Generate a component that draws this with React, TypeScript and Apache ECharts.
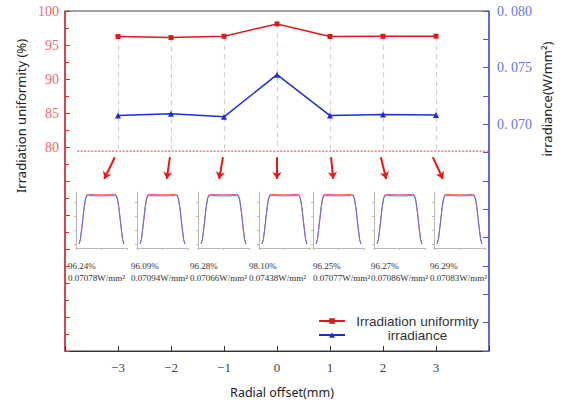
import React, { useEffect, useRef } from "react";
import * as echarts from "echarts";

// ---- data ----
const offsets = [-3, -2, -1, 0, 1, 2, 3];
const uniformity = [96.24, 96.09, 96.28, 98.1, 96.25, 96.27, 96.29];
const irradiance = [0.07078, 0.07094, 0.07066, 0.07438, 0.07077, 0.07086, 0.07083];
const leftLabelMin = 80;
const rightLabelMin = 0.07;
// thumbnail beam profile
const profileX = [-8.8, -8.3, -7.8, -7.3, -6.8, -6.3, -5.8, -5.2, -3, 0, 3, 5.2, 5.8, 6.3, 6.8, 7.3, 7.8, 8.3, 8.8];
const profileRed = [0.29, 0.6, 1.3, 2.1, 2.9, 3.5, 3.78, 3.84, 3.81, 3.8, 3.81, 3.84, 3.78, 3.5, 2.9, 2.1, 1.3, 0.6, 0.29];
const profileBlue = [0.29, 0.6, 1.3, 2.1, 2.9, 3.48, 3.72, 3.74, 3.73, 3.72, 3.73, 3.74, 3.72, 3.48, 2.9, 2.1, 1.3, 0.6, 0.29];
// annotation values
const guideBottom = 79.7;
const cutLevel = 79.4;
const cutStart = -3.77;
const cutEnd = 4;
const arrowFromX = [-3.06, -2.02, -1.02, 0, 1.02, 1.96, 2.94];
const arrowToX = [-3.26, -2.08, -1.09, 0, 1.06, 2.06, 3.13];
const arrowFromY = 78.5;
const arrowToY = 75.3;

// ---- layout (pixels) ----
const thumbLeft = [76, 137, 198, 259, 313, 374, 434];
const textLeft = [68, 131, 190, 249, 313, 371, 430];

const RED_AXIS = "#e52b2b";
const BLUE_AXIS = "#4a58e6";
const SERIF = '"Liberation Serif", "DejaVu Serif", serif';
const SANS = '"Noto Sans", "DejaVu Sans", sans-serif';
const LEGEND_FONT = '"Liberation Sans", Arial, sans-serif';

export default function App() {
  const ref = useRef<HTMLDivElement>(null);
  useEffect(() => {
    const chart = echarts.init(ref.current!, null, { renderer: "svg" });

    const grids: any[] = [
      { left: 65, right: 76, top: 11, bottom: 51, show: true, borderColor: "#444", borderWidth: 1 },
    ];
    const xAxes: any[] = [
      {
        type: "value",
        gridIndex: 0,
        min: -4,
        max: 4,
        interval: 1,
        axisLine: { show: true, onZero: false, lineStyle: { color: "#333", width: 1 } },
        axisTick: { show: true, inside: true, length: 5, lineStyle: { color: "#333" } },
        axisLabel: {
          formatter: (v: number) => (Math.abs(v) < 3.5 ? String(v).replace("-", "\u2212") : ""),
          fontFamily: SERIF,
          fontSize: 13,
          color: "#444",
          margin: 10,
        },
        splitLine: { show: false },
      },
    ];
    const yAxes: any[] = [
      {
        type: "value",
        gridIndex: 0,
        position: "left",
        min: 50,
        max: 100,
        interval: 5,
        axisLine: { show: true, onZero: false, lineStyle: { color: RED_AXIS, width: 1.5 } },
        axisTick: { show: true, inside: true, length: 5, lineStyle: { color: RED_AXIS } },
        minorTick: { show: true, splitNumber: 2, length: 4, lineStyle: { color: RED_AXIS } },
        axisLabel: {
          formatter: (v: number) => (v >= leftLabelMin ? String(v) : ""),
          color: "#e86a6a",
          fontFamily: SERIF,
          fontSize: 14,
          margin: 6,
        },
        splitLine: { show: false },
      },
      {
        type: "value",
        gridIndex: 0,
        position: "right",
        min: 0.05,
        max: 0.08,
        interval: 0.005,
        axisLine: { show: true, onZero: false, lineStyle: { color: BLUE_AXIS, width: 1.5 } },
        axisTick: { show: true, inside: true, length: 6, lineStyle: { color: BLUE_AXIS } },
        minorTick: { show: true, splitNumber: 2, length: 6, lineStyle: { color: BLUE_AXIS } },
        axisLabel: {
          formatter: (v: number) => (v >= rightLabelMin - 1e-6 ? v.toFixed(3).replace("0.", "0. ") : ""),
          color: "#6a75e8",
          fontFamily: SERIF,
          fontSize: 14,
          margin: 8,
        },
        splitLine: { show: false },
      },
    ];

    const series: any[] = [
      {
        type: "lines",
        coordinateSystem: "cartesian2d",
        xAxisIndex: 0,
        yAxisIndex: 0,
        silent: true,
        z: 1,
        symbol: "none",
        lineStyle: { color: "#d0d0d0", width: 1.2, type: [5, 4], opacity: 1 },
        data: offsets.map((x, i) => ({ coords: [[x, uniformity[i]], [x, guideBottom]] })),
      },
      {
        type: "line",
        xAxisIndex: 0,
        yAxisIndex: 0,
        silent: true,
        z: 2,
        showSymbol: false,
        symbol: "none",
        lineStyle: { color: "#e8302a", width: 1, type: [2, 1.5] },
        itemStyle: { color: "#e8302a" },
        data: [[cutStart, cutLevel], [cutEnd, cutLevel]],
      },
      {
        type: "lines",
        coordinateSystem: "cartesian2d",
        xAxisIndex: 0,
        yAxisIndex: 0,
        silent: true,
        z: 2,
        symbol: ["none", "arrow"],
        symbolSize: 7,
        lineStyle: { color: "#e81818", width: 2, opacity: 1 },
        data: offsets.map((_, i) => ({ coords: [[arrowFromX[i], arrowFromY], [arrowToX[i], arrowToY]] })),
      },
      {
        name: "Irradiation uniformity",
        type: "line",
        xAxisIndex: 0,
        yAxisIndex: 0,
        data: offsets.map((x, i) => [x, uniformity[i]]),
        symbol: "rect",
        symbolSize: 5,
        showSymbol: true,
        z: 3,
        itemStyle: { color: "#d61c1c" },
        lineStyle: { color: "#d61c1c", width: 1.5 },
      },
      {
        name: "irradiance",
        type: "line",
        xAxisIndex: 0,
        yAxisIndex: 1,
        data: offsets.map((x, i) => [x, irradiance[i]]),
        symbol: "triangle",
        symbolSize: 6,
        showSymbol: true,
        z: 3,
        itemStyle: { color: "#1f2fcf" },
        lineStyle: { color: "#1f2fcf", width: 1.5 },
      },
    ];

    thumbLeft.forEach((left, i) => {
      grids.push({ left, top: 192, width: 51, height: 56 });
      xAxes.push({
        type: "value",
        gridIndex: i + 1,
        min: -10,
        max: 10,
        interval: 10,
        axisLine: { show: true, onZero: false, lineStyle: { color: "#b8b8b8", width: 1 } },
        axisTick: { show: true, length: 2, lineStyle: { color: "#b8b8b8" } },
        axisLabel: { show: false },
        splitLine: { show: false },
      });
      yAxes.push({
        type: "value",
        gridIndex: i + 1,
        min: 0,
        max: 4,
        interval: 1,
        axisLine: { show: true, onZero: false, lineStyle: { color: "#b8b8b8", width: 1 } },
        axisTick: { show: true, length: 2, lineStyle: { color: "#b8b8b8" }, customValues: [0.29, 1.29, 2.29, 3.29] },
        axisLabel: { show: false },
        splitLine: { show: false },
      });
      series.push({
        type: "line",
        xAxisIndex: i + 1,
        yAxisIndex: i + 2,
        showSymbol: false,
        silent: true,
        data: profileX.map((x, k) => [x, profileRed[k]]),
        lineStyle: { color: "#e05a5a", width: 1 },
        itemStyle: { color: "#e05a5a" },
      });
      series.push({
        type: "line",
        xAxisIndex: i + 1,
        yAxisIndex: i + 2,
        showSymbol: false,
        silent: true,
        data: profileX.map((x, k) => [x, profileBlue[k]]),
        lineStyle: { color: "#6a6ae6", width: 1 },
        itemStyle: { color: "#6a6ae6" },
      });
    });

    const graphic: any[] = [
      {
        type: "text",
        x: 21,
        y: 116,
        rotation: Math.PI / 2,
        style: { text: "Irradiation uniformity (%)", fontSize: 13, fontFamily: SANS, fill: "#222", align: "center", verticalAlign: "middle" },
      },
      {
        type: "text",
        x: 547,
        y: 99,
        rotation: Math.PI / 2,
        style: { text: "irradiance(W/mm\u00b2)", fontSize: 13, fontFamily: SANS, fill: "#222", align: "center", verticalAlign: "middle" },
      },
      {
        type: "text",
        x: 282,
        y: 392,
        style: { text: "Radial offset(mm)", fontSize: 12.5, fontFamily: SANS, fill: "#222", align: "center", verticalAlign: "middle" },
      },
    ];
    textLeft.forEach((x, i) => {
      graphic.push({
        type: "text",
        x,
        y: 266,
        style: { text: uniformity[i].toFixed(2) + "%", fontSize: 9, fontFamily: SERIF, fill: "#333", verticalAlign: "middle" },
      });
      graphic.push({
        type: "text",
        x,
        y: 278,
        style: { text: irradiance[i].toFixed(5) + "W/mm\u00b2", fontSize: 9, fontFamily: SERIF, fill: "#333", verticalAlign: "middle" },
      });
    });

    chart.setOption({
      animation: false,
      backgroundColor: "#fff",
      grid: grids,
      xAxis: xAxes,
      yAxis: yAxes,
      series,
      graphic,
      legend: {
        data: ["Irradiation uniformity", "irradiance"],
        orient: "vertical",
        left: 313,
        top: 309,
        itemWidth: 26,
        itemHeight: 7,
        itemGap: 0,
        formatter: (name: string) => `{t|${name}}`,
        textStyle: {
          rich: {
            t: { width: 123, align: "center", fontSize: 13.5, lineHeight: 16, fontFamily: LEGEND_FONT, color: "#333", padding: [0, 0, 0, 6] },
          },
        },
      },
    });
    return () => chart.dispose();
  }, []);
  return <div ref={ref} style={{ position: "fixed", left: 0, top: 0, width: 565, height: 402 }} />;
}
